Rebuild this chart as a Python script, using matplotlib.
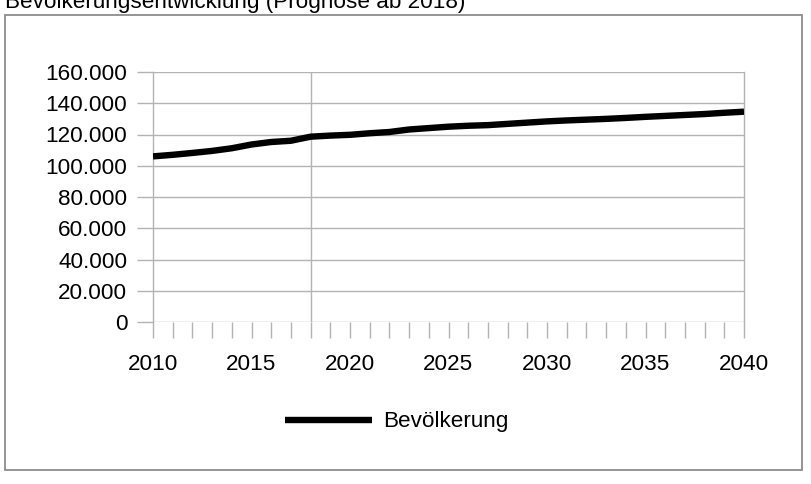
import matplotlib.pyplot as plt
from matplotlib.patches import Rectangle
from matplotlib.ticker import FuncFormatter, MultipleLocator

#----------------------------------------------------------
title='Bevölkerungsentwicklung (Prognose ab 2018)'
series_name='Bevölkerung'
l_year=list(range(2010, 2041))
l_pop=[106000, 107000, 108200, 109500, 111200, 113600, 115200, 116000, 118600, 119300,
       119800, 120800, 121600, 123200, 124100, 125000, 125600, 126000, 126800, 127600,
       128400, 129000, 129500, 130000, 130600, 131300, 131900, 132500, 133100, 133900,
       134600]
l_ytick=[0, 20000, 40000, 60000, 80000, 100000, 120000, 140000, 160000]
l_xtick=[2010, 2015, 2020, 2025, 2030, 2035, 2040]
year_split=2018

c_grid='#b3b3b3'
font='Liberation Sans'
fs=16.2

#----------------------------------------------------------
plt.rcParams['font.family']=[font, 'DejaVu Sans']
fig=plt.figure(figsize=(8.12, 4.84), dpi=100)
ax=fig.add_axes([153/812, 1-322/484, (744-153)/812, 250/484])

#outer frame + title (cut at the top edge, as in the source image)
fig.patches.append(Rectangle((5/812, 1-470/484), 797/812, 455/484, transform=fig.transFigure,
                             fill=False, edgecolor='#8c8c8c', linewidth=1.3))
fig.text(5/812, 1-8/484, title, fontsize=fs, ha='left', va='baseline')

#grid
for v in l_ytick:
	ax.axhline(v, color=c_grid, linewidth=1, zorder=1)
ax.axvline(year_split, color=c_grid, linewidth=1, zorder=1)

#line
ax.plot(l_year, l_pop, color='black', linewidth=4.6, solid_capstyle='butt', zorder=3, label=series_name)

#axes
ax.set_xlim(l_year[0], l_year[-1])
ax.set_ylim(0, l_ytick[-1])
ax.set_xticks(l_xtick)
ax.xaxis.set_minor_locator(MultipleLocator(1))
ax.set_yticks(l_ytick)
ax.yaxis.set_major_formatter(FuncFormatter(lambda v, p: f'{int(v):,}'.replace(',', '.')))
ax.tick_params(axis='both', which='both', color=c_grid, direction='out', length=11.5, width=1, labelsize=fs)
ax.tick_params(axis='x', which='major', pad=11.5)
ax.tick_params(axis='y', pad=7)
for s in ['top', 'bottom']:
	ax.spines[s].set_visible(False)
for s in ['left', 'right']:
	ax.spines[s].set_color(c_grid)
	ax.spines[s].set_linewidth(1)

#legend
fig.legend(loc='center', bbox_to_anchor=(397/812, 1-422/484), frameon=False, fontsize=fs,
           handlelength=3.87, handletextpad=0.49)

plt.savefig('out.png', dpi=100)
plt.close()
